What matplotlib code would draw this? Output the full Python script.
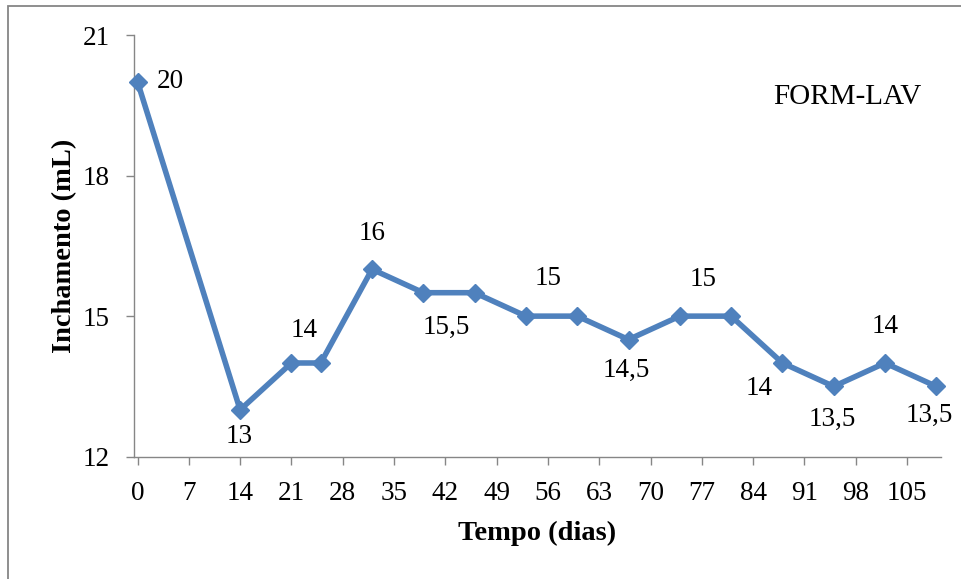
import matplotlib.pyplot as plt
from matplotlib.patches import Rectangle

# Inchamento ao longo do tempo (FORM-LAV)
dias = [0, 14, 21, 25, 32, 39, 46, 53, 60, 67, 74, 81, 88, 95, 102, 109]
inchamento = [20, 13, 14, 14, 16, 15.5, 15.5, 15, 15, 14.5, 15, 15, 14, 13.5, 14, 13.5]
x_ticks = list(range(0, 106, 7))
y_ticks = [12, 15, 18, 21]
pontos_rotulados = [0, 1, 2, 4, 5, 7, 9, 10, 12, 13, 14, 15]

# deslocamento de cada rótulo em pixels (dx, dy)
desloc = [(33, 0), (-1, -27), (13, 32), (0, 36), (23, -35), (22, 38),
          (-2, -31), (23, 37), (-23, -26), (-1, -33), (0, 36), (-7, -29)]

plt.rcParams['font.family'] = ['Liberation Serif', 'DejaVu Serif']
cinza = '#868686'
azul = '#4F81BD'

fig = plt.figure(figsize=(9.61, 5.79), dpi=100)
ax = fig.add_axes([0.13975, 0.21123, 0.83913, 0.72832])

ax.plot(dias, inchamento, color=azul, lw=4, marker='D', ms=9.5,
        mec=azul, mfc=azul, solid_joinstyle='round', clip_on=False, zorder=3)

for i, (dx, dy) in zip(pontos_rotulados, desloc):
    txt = f"{inchamento[i]:g}".replace('.', ',')
    ax.annotate(txt, (dias[i], inchamento[i]), xytext=(dx, dy),
                textcoords='offset pixels', ha='center', va='center', fontsize=19.5)

ax.set_xlim(-0.44, 109.6)
ax.set_ylim(12, 21)
ax.set_xticks(x_ticks)
ax.set_yticks(y_ticks)
ax.tick_params(direction='out', length=5.8, width=1, color=cinza, labelsize=19.5, pad=12)

for s in ['top', 'right']:
    ax.spines[s].set_visible(False)
for s in ['left', 'bottom']:
    ax.spines[s].set_color(cinza)
    ax.spines[s].set_linewidth(1)

ax.set_xlabel('Tempo (dias)', fontsize=20.5, fontweight='bold')
ax.xaxis.set_label_coords(0.5, -0.153)
ax.set_ylabel('Inchamento (mL)', fontsize=20.5, fontweight='bold')
ax.yaxis.set_label_coords(-0.071, 0.5)

fig.text(773 / 961, 1 - 104 / 579, 'FORM-LAV', fontsize=21, ha='left', va='baseline')

# moldura da área do gráfico
fig.patches.append(Rectangle((8 / 961, -0.1), 1.2, 1.1 - 6 / 579, transform=fig.transFigure,
                             fill=False, edgecolor=cinza, lw=1.3))

fig.savefig('out.png', dpi=100)
